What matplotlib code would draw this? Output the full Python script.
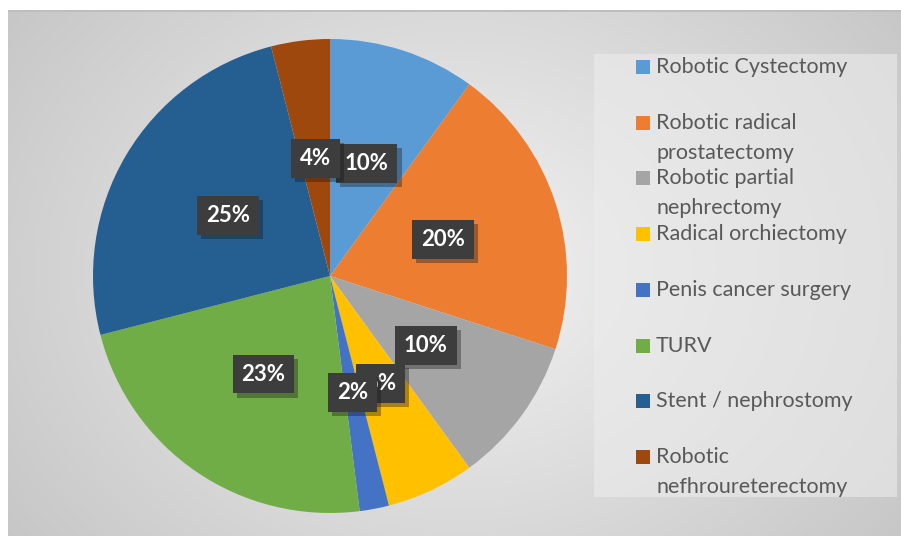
import numpy as np
import matplotlib
matplotlib.use("Agg")
import matplotlib.pyplot as plt
import matplotlib.patheffects as pe
from matplotlib.patches import Rectangle

labels = ["Robotic Cystectomy", "Robotic radical\nprostatectomy", "Robotic partial\nnephrectomy",
          "Radical orchiectomy", "Penis cancer surgery", "TURV", "Stent / nephrostomy",
          "Robotic\nnefhroureterectomy"]
values = [10, 20, 10, 6, 2, 23, 25, 4]
colors = ["#5B9BD5", "#ED7D31", "#A5A5A5", "#FFC000", "#4472C4", "#70AD47", "#255E91", "#9E480E"]

plt.rcParams['font.family'] = ['Lato', 'DejaVu Sans']

W, H = 901, 536
fig = plt.figure(figsize=(W / 100, H / 100), dpi=100)
fig.patch.set_facecolor("white")

# chart area background with radial gradient
bg = fig.add_axes([8 / W, 0, (W - 8) / W, (H - 10) / H])
yy, xx = np.mgrid[0:526, 0:893]
r = np.sqrt(((xx - 450) / 520.0) ** 2 + ((yy - 260) / 420.0) ** 2)
g = np.clip(0.95 - 0.16 * r, 0.76, 0.95)
bg.imshow(np.dstack([g, g, g]), aspect="auto", extent=[0, 1, 0, 1])
bg.set_xlim(0, 1)
bg.set_ylim(0, 1)
bg.axis("off")
bg.axhline(1, color="#bdbdbd", lw=2)

# legend panel
fig.patches.append(Rectangle((594 / W, 1 - 497 / H), (897 - 594) / W, (497 - 54) / H,
                             transform=fig.transFigure, facecolor="#ececec", alpha=0.6,
                             edgecolor="none", zorder=1))

cx, cy, rad = 330, 276, 237
ax = fig.add_axes([(cx - rad) / W, (H - cy - rad) / H, 2 * rad / W, 2 * rad / H])
ax.set_facecolor("none")
wedges, texts, autotexts = ax.pie(values, colors=colors, startangle=90, counterclock=False,
                                  autopct="%1.0f%%", pctdistance=0.5,
                                  wedgeprops=dict(linewidth=0),
                                  textprops=dict(color="white", fontsize=16, fontweight="bold"))
ax.set_xlim(-1, 1)
ax.set_ylim(-1, 1)
ax.set_aspect("equal")

for t in autotexts:
    t.set_bbox(dict(boxstyle="square,pad=0.4", facecolor="#3d3d3d", edgecolor="none"))
    t.get_bbox_patch().set_path_effects([pe.SimplePatchShadow(offset=(3, -3), alpha=0.35),
                                         pe.Normal()])

# legend entries
y0 = 67
dy = 55.7
for i, (lab, c) in enumerate(zip(labels, colors)):
    y = y0 + i * dy
    fig.patches.append(Rectangle((636 / W, 1 - (y + 7) / H), 14 / W, 14 / H,
                                 transform=fig.transFigure, facecolor=c, edgecolor="none",
                                 zorder=2))
    for k, line in enumerate(lab.split("\n")):
        fig.text(656 / W, 1 - (y + 6 + 30 * k) / H, line, fontsize=15.5, color="#595959",
                 va="baseline", ha="left")

fig.savefig("out.png", dpi=100)
